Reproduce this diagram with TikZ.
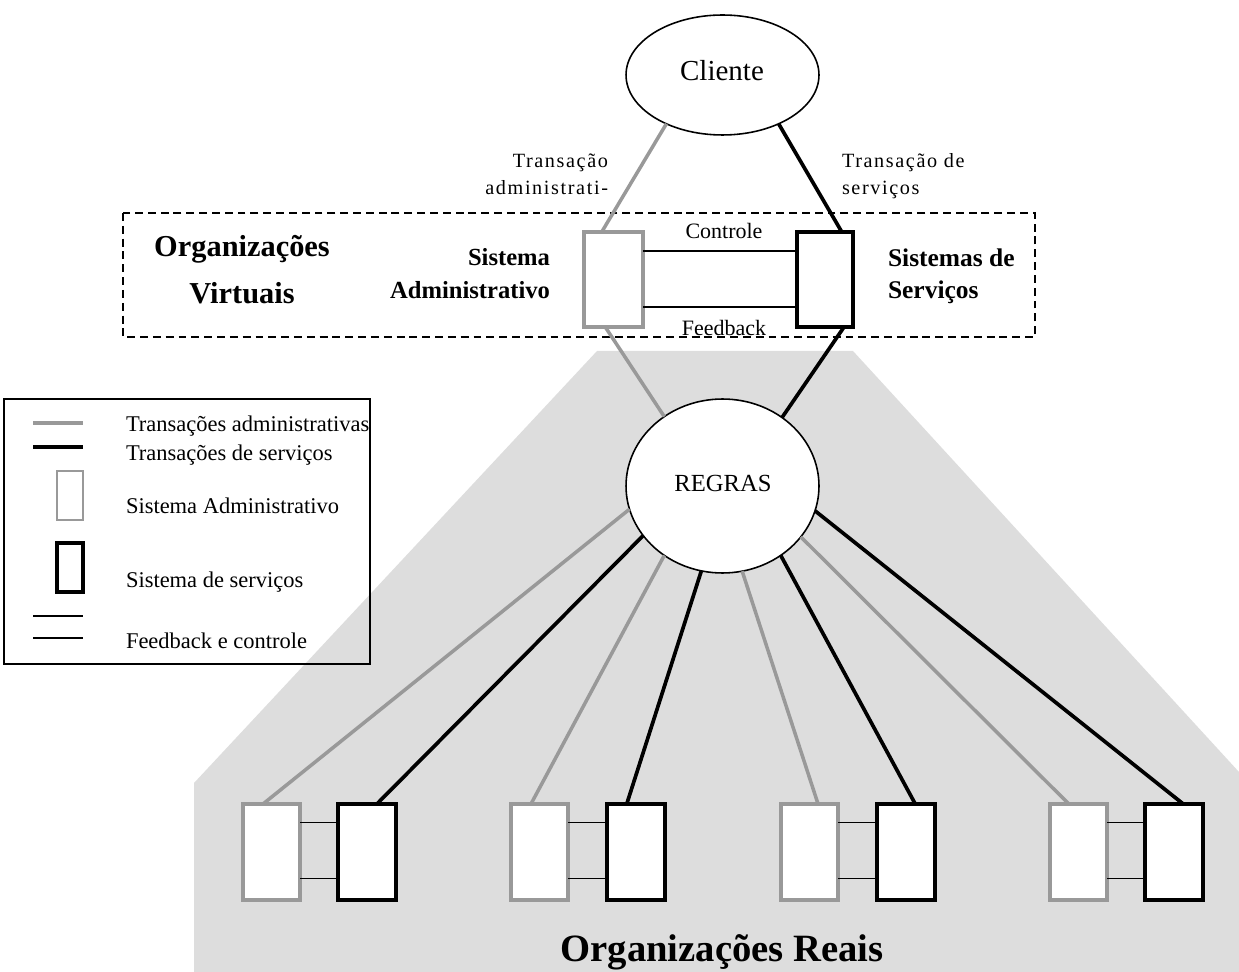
\documentclass[tikz,border=0pt]{standalone}
\usepackage{fontspec}
\setmainfont{Liberation Serif}
\usetikzlibrary{shapes.geometric,calc}
\definecolor{admgray}{HTML}{999999}
\definecolor{bggray}{HTML}{DDDDDD}

\begin{document}
\begin{tikzpicture}[x=0.02cm,y=-0.02cm,
  admline/.style={draw=admgray,line width=2pt},
  srvline/.style={draw=black,line width=2.1pt},
  thinline/.style={draw=black,line width=0.7pt},
  sysbox/.style={rectangle,fill=white,inner sep=0pt,outer sep=0pt,minimum height=1.92cm},
  admbox/.style={sysbox,draw=admgray,line width=1.9pt,minimum width=1.14cm},
  srvbox/.style={sysbox,draw=black,line width=2.1pt,minimum width=1.16cm},
  oval/.style={ellipse,draw,fill=white,line width=0.9pt,inner sep=0pt,outer sep=0pt,minimum width=3.86cm},
  lbl/.style={inner sep=0pt,outer sep=0pt,anchor=base},
  smalltxt/.style={font=\fontsize{11.5pt}{13pt}\selectfont\addfontfeature{LetterSpace=8}},
  midtxt/.style={font=\fontsize{12.5pt}{14pt}\selectfont},
  legtxt/.style={font=\fontsize{12.8pt}{14pt}\selectfont},
  boldtxt/.style={font=\fontsize{14pt}{16pt}\selectfont\bfseries},
  bigbold/.style={font=\fontsize{17.3pt}{19pt}\selectfont\bfseries},
  hugebold/.style={font=\fontsize{22pt}{24pt}\selectfont\bfseries},
]
\useasboundingbox (0,0) rectangle (1239,972);

% shaded region of the real organisations
\fill[bggray] (597,351) -- (853,351) -- (1239,772) -- (1239,972) -- (194,972) -- (194,783) -- cycle;

% virtual organisations frame
\draw[line width=0.85pt,dash pattern=on 4.5pt off 2.8pt] (123,213) rectangle (1035,337);

% legend
\draw[line width=0.8pt] (4,399) rectangle (370,664);
\draw[admline,line width=2.2pt] (33,423) -- (83,423);
\draw[srvline,line width=2.2pt] (33,447) -- (83,447);
\node[sysbox,draw=admgray,line width=1.7pt,minimum width=0.52cm,minimum height=0.98cm] (legadm) at (70,495.5) {};
\node[sysbox,draw=black,line width=2pt,minimum width=0.52cm,minimum height=0.98cm] (legsrv) at (70,567.5) {};
\draw[thinline] (33,616) -- (83,616);
\draw[thinline] (33,638) -- (83,638);
\node[lbl,anchor=base west,legtxt] (leg1) at (126,432) {Transações administrativas};
\node[lbl,anchor=base west,legtxt] (leg2) at (126,460) {Transações de serviços};
\node[lbl,anchor=base west,legtxt] (leg3) at (126,513) {Sistema Administrativo};
\node[lbl,anchor=base west,legtxt] (leg4) at (126,587) {Sistema de serviços};
\node[lbl,anchor=base west,legtxt] (leg5) at (126,648) {Feedback e controle};

% main nodes
\node[oval,minimum height=2.4cm] (cliente) at (722.5,75) {};
\node[lbl,font=\fontsize{16.5pt}{18pt}\selectfont] at (722,81) {Cliente};
\node[oval,minimum height=3.48cm] (regras) at (722.5,486) {};
\node[lbl,font=\fontsize{14pt}{16pt}\selectfont] at (723,491) {REGRAS};

\node[admbox,minimum width=1.18cm,minimum height=1.9cm] (adm) at (613.5,279.5) {};
\node[srvbox,line width=2.4pt,minimum width=1.12cm,minimum height=1.9cm] (srv) at (825,279.5) {};

% control and feedback between the virtual systems
\draw[thinline] ($(adm.north east)!0.2!(adm.south east)$) -- ($(srv.north west)!0.2!(srv.south west)$);
\draw[thinline] ($(adm.north east)!0.79!(adm.south east)$) -- ($(srv.north west)!0.79!(srv.south west)$);
\node[lbl,midtxt] (ctl) at (724,239) {Controle};
\node[lbl,midtxt] (fbk) at (724,336) {Feedback};

% transactions client <-> virtual systems <-> rules
\draw[admline] (cliente.221) -- ($(adm.north west)!0.3!(adm.north east)$);
\draw[srvline] (cliente.319) -- ($(srv.north west)!0.8!(srv.north east)$);
\draw[admline] ($(adm.south west)!0.36!(adm.south east)$) -- (regras.130.4);
\draw[srvline] ($(srv.south west)!0.84!(srv.south east)$) -- (regras.49.6);

\node[lbl,anchor=base east,smalltxt] (ta1) at (608,168) {Transação};
\node[lbl,anchor=base east,smalltxt] (ta2) at (608,195) {administrati-};
\node[lbl,anchor=base west,smalltxt] (ts1) at (842,168) {Transação de};
\node[lbl,anchor=base west,smalltxt] (ts2) at (842,195) {serviços};

\node[lbl,bigbold] (ov1) at (242,257) {Organizações};
\node[lbl,bigbold] (ov2) at (242,304) {Virtuais};
\node[lbl,anchor=base east,boldtxt] (sa1) at (550,266) {Sistema};
\node[lbl,anchor=base east,boldtxt] (sa2) at (550,299) {Administrativo};
\node[lbl,anchor=base west,font=\fontsize{14.5pt}{16pt}\selectfont\bfseries] (ss1) at (888,267) {Sistemas de};
\node[lbl,anchor=base west,font=\fontsize{14.5pt}{16pt}\selectfont\bfseries] (ss2) at (888,299) {Serviços};

% real organisations
\foreach \i/\gx/\bx in {1/271.5/367, 2/539.5/636, 3/809.5/906, 4/1078.5/1174} {
  \node[admbox] (g\i) at (\gx,852) {};
  \node[srvbox] (b\i) at (\bx,852) {};
  \draw[thinline] ($(g\i.north east)!0.19!(g\i.south east)$) -- ($(b\i.north west)!0.19!(b\i.south west)$);
  \draw[thinline] ($(g\i.north east)!0.78!(g\i.south east)$) -- ($(b\i.north west)!0.78!(b\i.south west)$);
}

\draw[admline] (regras.194.8) -- ($(g1.north west)!0.35!(g1.north east)$);
\draw[srvline] (regras.212.9) -- ($(b1.north west)!0.67!(b1.north east)$);
\draw[admline] (regras.230) -- ($(g2.north west)!0.35!(g2.north east)$);
\draw[srvline] (regras.256.7) -- ($(b2.north west)!0.34!(b2.north east)$);
\draw[admline] (regras.283.3) -- ($(g3.north west)!0.65!(g3.north east)$);
\draw[srvline] (regras.310) -- ($(b3.north west)!0.66!(b3.north east)$);
\draw[admline] (regras.327.6) -- ($(g4.north west)!0.33!(g4.north east)$);
\draw[srvline] (regras.345) -- ($(b4.north west)!0.66!(b4.north east)$);

\node[lbl,hugebold] (real) at (722,961) {Organizações Reais};
\end{tikzpicture}
\end{document}
